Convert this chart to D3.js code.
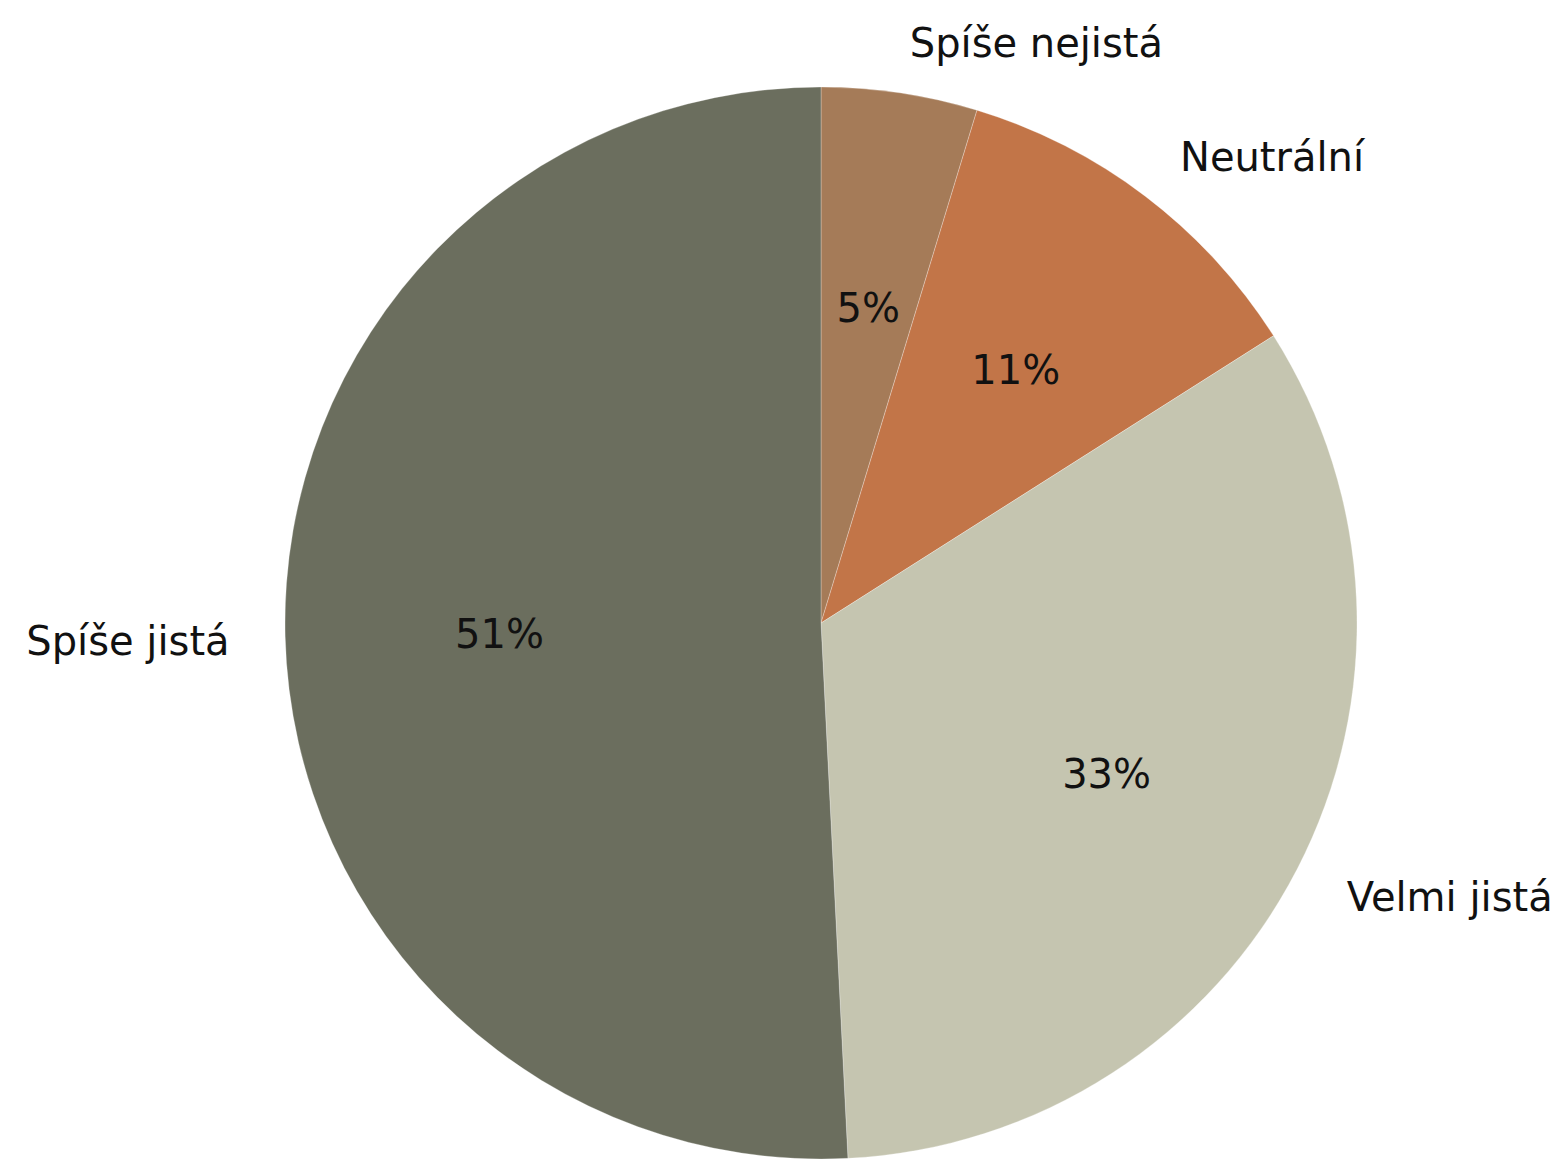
<!DOCTYPE html>
<html><head><meta charset="utf-8">
<script src="https://cdn.jsdelivr.net/npm/d3@7/dist/d3.min.js"></script>
<style>html,body{margin:0;padding:0;background:#fff;}svg{display:block;}</style>
</head><body>
<svg id="chart" width="1560" height="1159"></svg>
<script>
const categories = ["Spíše nejistá", "Neutrální", "Velmi jistá", "Spíše jistá"];
const values = [4.7, 11.3, 33.2, 50.8];
const colors = ["#A57B58", "#C27548", "#C5C5B0", "#6B6E5E"];

const W = 1560, H = 1159;
const cx = 821, cy = 623, R = 536;
const fontSize = 40;
const svg = d3.select("#chart");
const g = svg.append("g").attr("transform", `translate(${cx},${cy})`);

const data = categories.map((c, i) => ({cat: c, val: values[i], color: colors[i]}));
const total = d3.sum(values);
const pie = d3.pie().value(d => d.val).sort(null).startAngle(0).endAngle(2 * Math.PI);
const arcs = pie(data);
const arc = d3.arc().innerRadius(0).outerRadius(R);

g.selectAll("path.slice").data(arcs).enter().append("path")
  .attr("class", "slice")
  .attr("d", arc)
  .attr("fill", d => d.data.color)
  .attr("stroke", "rgba(255,255,255,0.35)")
  .attr("stroke-width", 0.8);

function pos(d, k) {
  const a = (d.startAngle + d.endAngle) / 2;
  return [k * R * Math.sin(a), -k * R * Math.cos(a)];
}

g.selectAll("text.label").data(arcs).enter().append("text")
  .attr("class", "label")
  .attr("x", d => pos(d, 1.1)[0] + (pos(d, 1.1)[0] >= 0 ? 2 : -2))
  .attr("y", d => pos(d, 1.1)[1] + 3)
  .attr("text-anchor", d => pos(d, 1.1)[0] >= 0 ? "start" : "end")
  .attr("dominant-baseline", "central")
  .attr("font-family", "DejaVu Sans")
  .attr("font-size", fontSize)
  .attr("fill", "#111")
  .text(d => d.data.cat);

g.selectAll("text.pct").data(arcs).enter().append("text")
  .attr("class", "pct")
  .attr("x", d => pos(d, 0.6)[0])
  .attr("y", d => pos(d, 0.6)[1] + 3)
  .attr("text-anchor", "middle")
  .attr("dominant-baseline", "central")
  .attr("font-family", "DejaVu Sans")
  .attr("font-size", fontSize)
  .attr("fill", "#111")
  .text(d => Math.round(d.data.val / total * 100) + "%");
</script>
</body></html>
